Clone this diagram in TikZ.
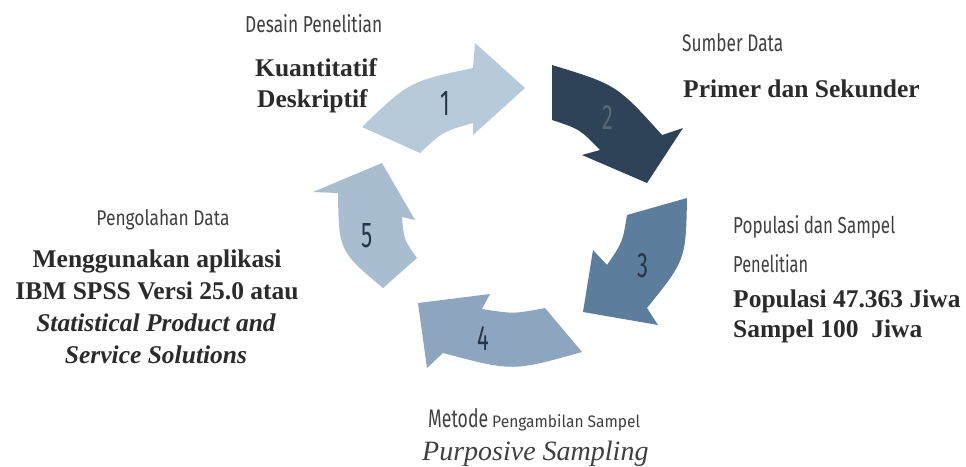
\documentclass[tikz,border=0pt]{standalone}
\usepackage{fontspec}
\usepackage{graphicx}
\setmainfont{Liberation Serif}
\newfontfamily\labfont[FakeStretch=0.62]{Fira Sans}
\newcommand{\mylbl}[3]{\resizebox{#1pt}{#2pt}{\labfont #3}}
\newcommand{\mynum}[1]{\resizebox{!}{24pt}{\labfont #1}}
\definecolor{cA}{HTML}{B7CAD9}
\definecolor{cB}{HTML}{2F4358}
\definecolor{cC}{HTML}{5C7D9B}
\definecolor{cD}{HTML}{8DA5BE}
\definecolor{cE}{HTML}{A9BDD1}
\definecolor{numcol}{HTML}{26364A}
\definecolor{labgray}{HTML}{404040}
\definecolor{txtdark}{HTML}{2B2B2B}
\begin{document}
\begin{tikzpicture}[x=1pt,y=1pt,
  bigtxt/.style={font=\fontsize{25.5}{30}\selectfont\bfseries, text=txtdark, inner sep=0pt, anchor=base west},
  bigc/.style={bigtxt, anchor=base},
  bigci/.style={bigc, font=\fontsize{25.5}{30}\selectfont\bfseries\itshape},
  lab/.style={text=labgray, inner sep=0pt, anchor=base west},
  num/.style={text=numcol, inner sep=0pt, anchor=center}]
\useasboundingbox[fill=white] (0,0) rectangle (966,-466);

% arrows
\fill[cA] (362,-127) .. controls (409,-81.6) .. (473,-68) -- (475,-43) -- (525,-88) -- (473,-135) -- (473,-123) .. controls (442.9,-131.6) .. (420,-153) -- cycle;
\fill[cB] (552,-65) .. controls (616.7,-84.8) .. (662,-135) -- (683,-128) -- (647,-183) -- (582,-155) -- (600,-150) .. controls (579.7,-129.1) .. (552,-120) -- cycle;
\fill[cC] (687,-198) .. controls (685.8,-259.8) .. (647,-308) -- (658,-325) -- (583,-312) -- (593,-250) -- (607,-265) .. controls (622.6,-242.2) .. (627,-215) -- cycle;
\fill[cD] (582,-352) .. controls (512.5,-371.5) .. (443,-353) -- (427,-368) -- (418,-303) -- (490,-294) -- (482,-309) .. controls (513.5,-314) .. (545,-308) -- cycle;
\fill[cE] (383,-288) .. controls (338.8,-250.8) .. (338,-193) -- (313,-192) -- (382,-163) -- (415,-220) -- (402,-217) .. controls (403.9,-239.6) .. (417,-258) -- cycle;

% numbers
\node[num] (n1) at (445,-103) {\mynum{1}};
\node[num, text=cB!80!white] (n2) at (608,-117) {\mynum{2}};
\node[num] (n3) at (643,-266) {\mynum{3}};
\node[num] (n4) at (483,-338) {\mynum{4}};
\node[num] (n5) at (367,-236) {\mynum{5}};

% texts
\node[lab] (t1) at (245,-32) {\mylbl{137}{18}{Desain Penelitian}};
\node[bigtxt] (d1a) at (255,-76) {Kuantitatif};
\node[bigtxt] (d1b) at (257,-107) {Deskriptif};

\node[lab] (t2) at (682,-51) {\mylbl{101}{18}{Sumber Data}};
\node[bigtxt] (d2) at (683,-97) {Primer dan Sekunder};

\node[lab] (t3a) at (733,-233) {\mylbl{162}{18}{Populasi dan Sampel}};
\node[lab] (t3b) at (733,-272) {\mylbl{75}{18}{Penelitian}};
\node[bigtxt] (d3a) at (733,-307) {Populasi 47.363 Jiwa};
\node[bigtxt] (d3b) at (733,-337) {Sampel 100\ \ Jiwa};

\node[lab] (t4a) at (428,-427) {\mylbl{60}{19}{Metode}};
\node[lab] (t4b) at (492,-427) {\mylbl{148}{13}{Pengambilan Sampel}};
\node[text=labgray, inner sep=0pt, anchor=base west, font=\fontsize{28}{32}\selectfont\itshape] (d4) at (422,-460) {Purposive Sampling};

\node[lab, anchor=base] (t5) at (163,-225) {\mylbl{133}{16}{Pengolahan Data}};
\node[bigc] (d5a) at (157,-267) {Menggunakan aplikasi};
\node[bigc] (d5b) at (157,-299) {IBM SPSS Versi 25.0 atau};
\node[bigci] (d5c) at (156,-331) {Statistical Product and};
\node[bigci] (d5d) at (156,-363) {Service Solutions};
\end{tikzpicture}
\end{document}
